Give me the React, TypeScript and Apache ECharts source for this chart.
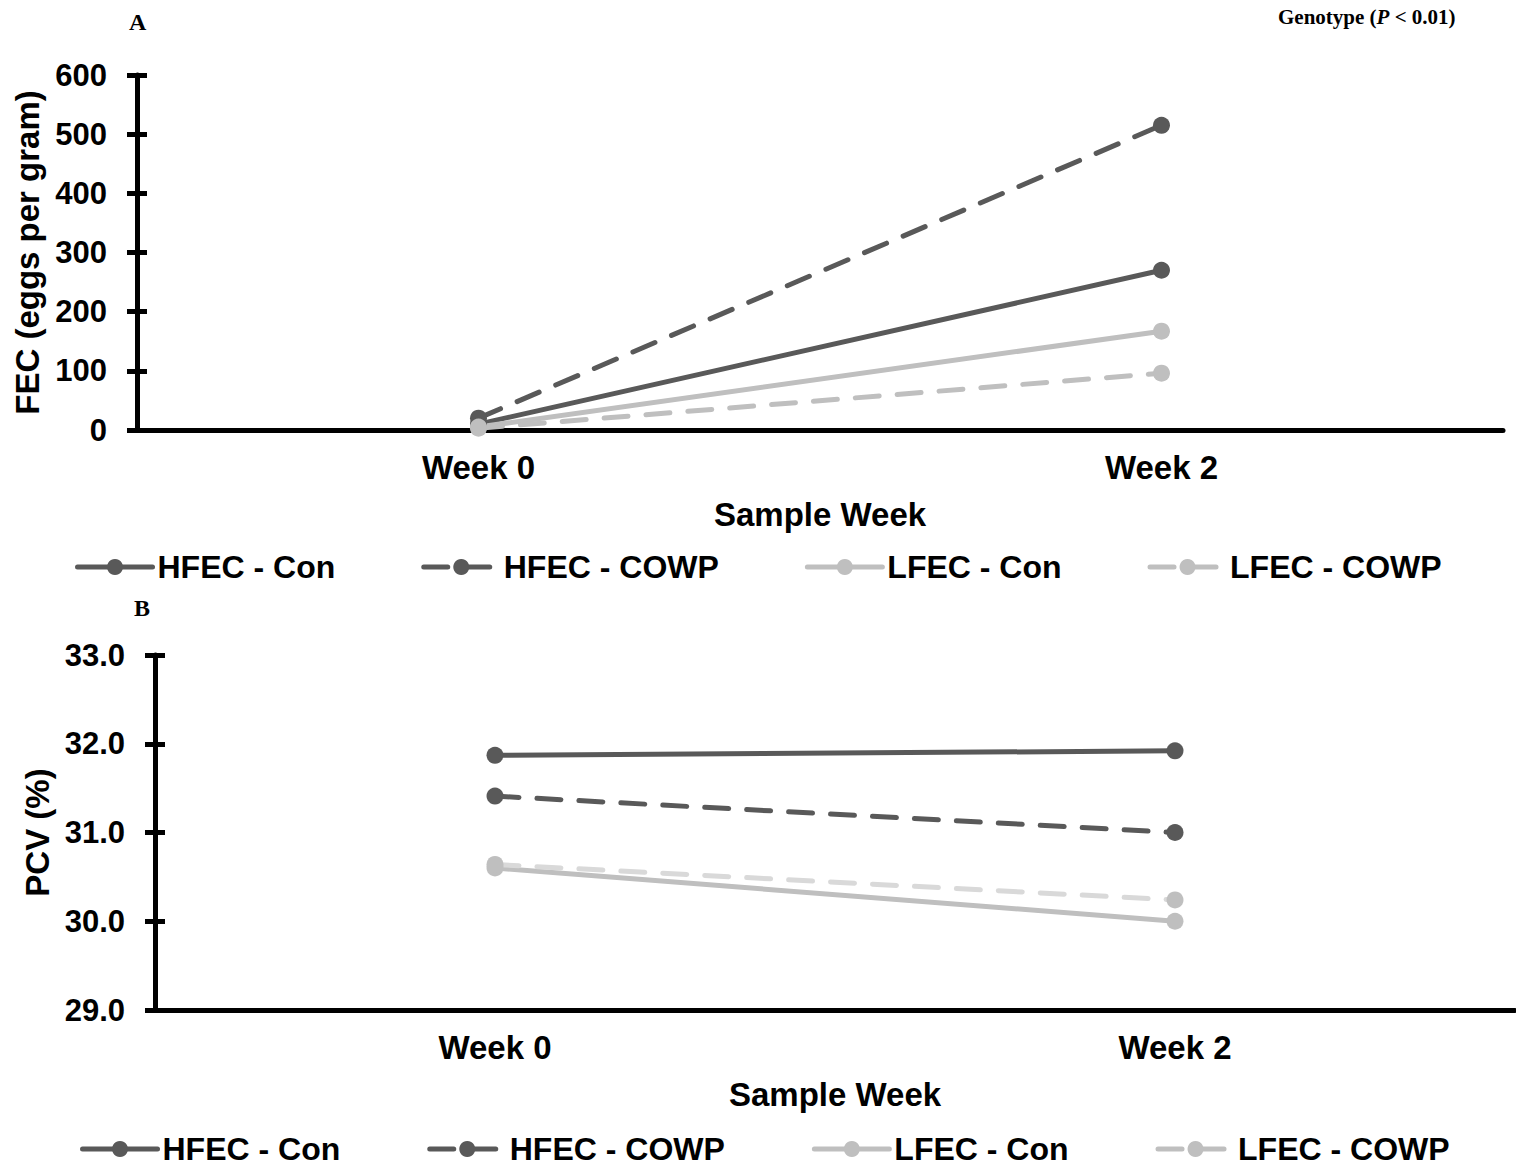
import React, { useEffect, useRef } from "react";
import * as echarts from "echarts";

const weeks = ["Week 0", "Week 2"];
const seriesNames = ["HFEC - Con", "HFEC - COWP", "LFEC - Con", "LFEC - COWP"];
const fecHCon = [10, 270];
const fecHCowp = [20, 515];
const fecLCon = [5, 167];
const fecLCowp = [3, 96];
const pcvHCon = [31.87, 31.92];
const pcvHCowp = [31.41, 31.0];
const pcvLCon = [30.6, 30.0];
const pcvLCowp = [30.64, 30.24];

const DARK = "#595959";
const LIGHT = "#bfbfbf";
const LIGHTER = "#d9d9d9";
const FONT = "'Liberation Sans', Arial, sans-serif";
const SERIF = "'Liberation Serif', 'Times New Roman', serif";

export default function App() {
  const ref = useRef<HTMLDivElement>(null);
  useEffect(() => {
    const chart = echarts.init(ref.current!, null, { renderer: "svg" });
    const mk = (name: string, data: number[], color: string, dashed: boolean, gi: number, lineColor?: string) => ({
      name,
      type: "line",
      xAxisIndex: gi,
      yAxisIndex: gi,
      data,
      symbol: "circle",
      symbolSize: 17,
      itemStyle: { color },
      lineStyle: { color: lineColor || color, width: 5, type: dashed ? [24, 18] : "solid", cap: "round" },
      emphasis: { disabled: true },
    });
    const axisLine = { show: true, lineStyle: { color: "#000", width: 5 } };
    const xAxisBase = (gi: number) => ({
      type: "category",
      gridIndex: gi,
      data: weeks,
      axisLine,
      axisTick: { show: false },
      axisLabel: { color: "#000", fontSize: 33, fontWeight: "bold", fontFamily: FONT, margin: 21 },
      name: "Sample Week",
      nameLocation: "middle",
      nameGap: 68,
      nameTextStyle: { color: "#000", fontSize: 33, fontWeight: "bold", fontFamily: FONT },
    });
    const yMain = (gi: number, min: number, max: number, interval: number, name: string, nameGap: number, fmt?: (v: number) => string) => ({
      type: "value",
      gridIndex: gi,
      min,
      max,
      interval,
      axisLine,
      axisTick: { show: true, length: 10, lineStyle: { color: "#000", width: 5 } },
      splitLine: { show: false },
      axisLabel: { color: "#000", fontSize: 31, fontWeight: "bold", fontFamily: FONT, margin: 30, formatter: fmt },
      name,
      nameLocation: "middle",
      nameGap,
      nameTextStyle: { color: "#000", fontSize: 33, fontWeight: "bold", fontFamily: FONT },
    });
    const yInner = (gi: number, min: number, max: number, interval: number) => ({
      type: "value",
      gridIndex: gi,
      position: "left",
      min,
      max,
      interval,
      axisLine: { show: false },
      axisTick: { show: true, inside: true, length: 10, lineStyle: { color: "#000", width: 5 } },
      splitLine: { show: false },
      axisLabel: { show: false },
    });
    const legendBase = {
      data: seriesNames,
      itemWidth: 75,
      itemHeight: 20,
      lineStyle: { width: 5 },
      textStyle: { color: "#000", fontSize: 32, fontWeight: "bold", fontFamily: FONT },
    };
    chart.setOption({
      animation: false,
      grid: [
        { left: 137, top: 75, width: 1366, height: 355 },
        { left: 155, top: 655, width: 1360, height: 355 },
      ],
      xAxis: [xAxisBase(0), xAxisBase(1)],
      yAxis: [
        yMain(0, 0, 600, 100, "FEC (eggs per gram)", 90),
        yMain(1, 29, 33, 1, "PCV (%)", 101, (v: number) => v.toFixed(1)),
        yInner(0, 0, 600, 100),
        yInner(1, 29, 33, 1),
      ],
      legend: [
        { ...legendBase, left: 70, top: 546, itemGap: 86 },
        { ...legendBase, left: 75, top: 1128, itemGap: 87 },
      ],
      series: [
        mk(seriesNames[0], fecHCon, DARK, false, 0),
        mk(seriesNames[1], fecHCowp, DARK, true, 0),
        mk(seriesNames[2], fecLCon, LIGHT, false, 0),
        mk(seriesNames[3], fecLCowp, LIGHT, true, 0),
        mk(seriesNames[0], pcvHCon, DARK, false, 1),
        mk(seriesNames[1], pcvHCowp, DARK, true, 1),
        mk(seriesNames[2], pcvLCon, LIGHT, false, 1),
        mk(seriesNames[3], pcvLCowp, LIGHT, true, 1, LIGHTER),
      ],
      graphic: [
        { type: "text", left: 129, top: 10, style: { text: "A", font: `bold 24px ${SERIF}`, fill: "#000" } },
        { type: "text", left: 134, top: 596, style: { text: "B", font: `bold 24px ${SERIF}`, fill: "#000" } },
        {
          type: "text",
          left: 1278,
          top: 6,
          style: {
            text: "{a|Genotype (}{b|P}{a| < 0.01)}",
            rich: {
              a: { font: `bold 21px ${SERIF}`, fill: "#000" },
              b: { font: `italic bold 21px ${SERIF}`, fill: "#000" },
            },
          },
        },
      ],
    });
    return () => chart.dispose();
  }, []);
  return <div ref={ref} style={{ width: 1516, height: 1168, position: "absolute", left: 0, top: 0 }} />;
}
